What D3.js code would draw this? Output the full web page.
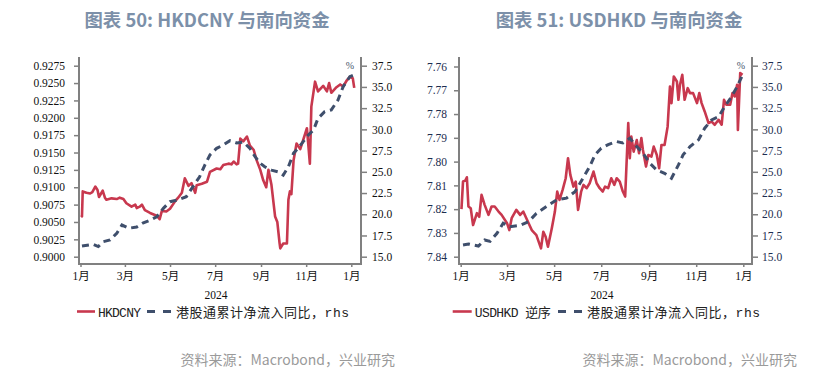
<!DOCTYPE html>
<html>
<head>
<meta charset="utf-8">
<script src="https://cdn.jsdelivr.net/npm/d3@7"></script>
<style>
  body { margin: 0; background: #fff; }
  svg { display: block; }
  .title { font-family: "Noto Sans CJK SC", sans-serif; font-weight: 700; font-size: 18.4px; fill: #7c90a9; }
  .tick text { font-family: "Liberation Serif", "Noto Sans CJK SC", serif; font-size: 11.5px; }
  .tick line { stroke: #808080; stroke-width: 1.5; }
  .frame { stroke: #808080; stroke-width: 2; }
  .legend { font-family: "Liberation Mono", "Noto Sans CJK SC", monospace; font-size: 13px; fill: #222; }
  .year { font-family: "Liberation Serif", serif; font-size: 11.5px; fill: #111; }
  .source { font-family: "Noto Sans CJK SC", sans-serif; font-size: 14px; fill: #9a9a9a; }
  .pct { font-family: "Liberation Serif", serif; font-size: 10px; fill: #44546a; }
</style>
</head>
<body>
<svg width="826" height="377"></svg>
<script>
// HKDCNY (lhs)
const hkdcny = [
  ["2024-01-02", 0.9060], ["2024-01-03", 0.9058], ["2024-01-04", 0.9094], ["2024-01-09", 0.9092],
  ["2024-01-14", 0.9091], ["2024-01-17", 0.9093], ["2024-01-21", 0.9101], ["2024-01-24", 0.9096],
  ["2024-01-26", 0.9086], ["2024-01-31", 0.9095], ["2024-02-03", 0.9085], ["2024-02-05", 0.9082],
  ["2024-02-12", 0.9084], ["2024-02-19", 0.9083], ["2024-02-23", 0.9085], ["2024-02-28", 0.9083],
  ["2024-03-03", 0.9077], ["2024-03-10", 0.9072], ["2024-03-15", 0.9075], ["2024-03-17", 0.9070],
  ["2024-03-21", 0.9072], ["2024-03-24", 0.9075], ["2024-03-28", 0.9067], ["2024-04-04", 0.9063],
  ["2024-04-13", 0.9059], ["2024-04-17", 0.9054], ["2024-04-20", 0.9066], ["2024-04-26", 0.9065],
  ["2024-05-01", 0.9069], ["2024-05-08", 0.9080], ["2024-05-12", 0.9085], ["2024-05-17", 0.9092],
  ["2024-05-21", 0.9113], ["2024-05-26", 0.9102], ["2024-05-30", 0.9106], ["2024-06-04", 0.9092],
  ["2024-06-06", 0.9103], ["2024-06-13", 0.9105], ["2024-06-20", 0.9108], ["2024-06-24", 0.9122],
  ["2024-07-03", 0.9127], ["2024-07-08", 0.9126], ["2024-07-12", 0.9132], ["2024-07-19", 0.9134],
  ["2024-07-23", 0.9133], ["2024-07-26", 0.9137], ["2024-07-30", 0.9133], ["2024-08-01", 0.9134],
  ["2024-08-04", 0.9170], ["2024-08-08", 0.9166], ["2024-08-13", 0.9173], ["2024-08-17", 0.9160],
  ["2024-08-22", 0.9154], ["2024-08-26", 0.9139], ["2024-08-31", 0.9125], ["2024-09-04", 0.9110],
  ["2024-09-08", 0.9100], ["2024-09-11", 0.9125], ["2024-09-15", 0.9104], ["2024-09-20", 0.9058],
  ["2024-09-23", 0.9050], ["2024-09-26", 0.9020], ["2024-09-27", 0.9012], ["2024-10-01", 0.9019],
  ["2024-10-06", 0.9019], ["2024-10-08", 0.9082], ["2024-10-10", 0.9094], ["2024-10-12", 0.9090],
  ["2024-10-15", 0.9139], ["2024-10-19", 0.9163], ["2024-10-24", 0.9155], ["2024-10-28", 0.9168],
  ["2024-11-02", 0.9185], ["2024-11-04", 0.9160], ["2024-11-06", 0.9134], ["2024-11-08", 0.9216],
  ["2024-11-13", 0.9252], ["2024-11-17", 0.9238], ["2024-11-24", 0.9246], ["2024-11-29", 0.9238],
  ["2024-12-02", 0.9250], ["2024-12-05", 0.9236], ["2024-12-12", 0.9244], ["2024-12-17", 0.9248],
  ["2024-12-21", 0.9245], ["2024-12-26", 0.9254], ["2024-12-30", 0.9259], ["2025-01-03", 0.9257],
  ["2025-01-05", 0.9243]
];

// 港股通累计净流入同比 (rhs)
const southboundA = [
  ["2024-01-03", 16.26], ["2024-01-18", 16.46], ["2024-01-25", 16.2], ["2024-02-01", 16.77],
  ["2024-02-10", 16.97], ["2024-02-19", 17.76], ["2024-02-26", 18.73], ["2024-03-06", 18.35],
  ["2024-03-17", 18.5], ["2024-03-26", 19.0], ["2024-04-04", 19.3], ["2024-04-13", 19.7],
  ["2024-04-22", 20.7], ["2024-05-01", 21.48], ["2024-05-12", 21.7], ["2024-05-23", 22.07],
  ["2024-06-01", 23.25], ["2024-06-10", 24.42], ["2024-06-17", 25.8], ["2024-06-24", 27.0],
  ["2024-07-03", 27.77], ["2024-07-12", 28.16], ["2024-07-21", 28.67], ["2024-07-30", 28.4],
  ["2024-08-08", 28.5], ["2024-08-17", 27.77], ["2024-08-24", 26.78], ["2024-08-31", 26.0],
  ["2024-09-06", 25.6], ["2024-09-15", 25.2], ["2024-09-24", 25.0], ["2024-10-01", 24.6],
  ["2024-10-08", 25.6], ["2024-10-15", 27.2], ["2024-10-21", 27.77], ["2024-10-28", 28.55],
  ["2024-11-04", 29.34], ["2024-11-11", 29.93], ["2024-11-17", 31.3], ["2024-11-26", 32.08],
  ["2024-12-05", 32.3], ["2024-12-14", 33.46], ["2024-12-21", 35.03], ["2024-12-30", 36.2],
  ["2025-01-04", 36.4]
];

// USDHKD (lhs, reversed)
const usdhkd = [
  ["2024-01-02", 7.8200], ["2024-01-04", 7.8084], ["2024-01-07", 7.8080], ["2024-01-09", 7.8066],
  ["2024-01-11", 7.8189], ["2024-01-14", 7.8196], ["2024-01-17", 7.8267], ["2024-01-22", 7.8217],
  ["2024-01-25", 7.8232], ["2024-01-28", 7.8140], ["2024-02-01", 7.8182], ["2024-02-06", 7.8224],
  ["2024-02-10", 7.8189], ["2024-02-14", 7.8189], ["2024-02-19", 7.8210], ["2024-02-23", 7.8224],
  ["2024-03-01", 7.8259], ["2024-03-04", 7.8288], ["2024-03-07", 7.8238], ["2024-03-13", 7.8203],
  ["2024-03-18", 7.8224], ["2024-03-22", 7.8210], ["2024-03-26", 7.8238], ["2024-04-02", 7.8288],
  ["2024-04-08", 7.8309], ["2024-04-14", 7.8365], ["2024-04-17", 7.8295], ["2024-04-20", 7.8316],
  ["2024-04-23", 7.8358], ["2024-04-28", 7.8280], ["2024-05-02", 7.8210], ["2024-05-05", 7.8126],
  ["2024-05-08", 7.8161], ["2024-05-12", 7.8119], ["2024-05-16", 7.8070], ["2024-05-19", 7.7986],
  ["2024-05-22", 7.8056], ["2024-05-26", 7.8105], ["2024-05-29", 7.8084], ["2024-06-01", 7.8203],
  ["2024-06-05", 7.8126], ["2024-06-08", 7.8098], ["2024-06-12", 7.8112], ["2024-06-16", 7.8091],
  ["2024-06-21", 7.8042], ["2024-06-25", 7.8091], ["2024-06-29", 7.8112], ["2024-07-03", 7.8126],
  ["2024-07-06", 7.8105], ["2024-07-10", 7.8112], ["2024-07-14", 7.8070], ["2024-07-18", 7.8098],
  ["2024-07-21", 7.8070], ["2024-07-25", 7.8084], ["2024-07-29", 7.8126], ["2024-08-01", 7.8147],
  ["2024-08-05", 7.7838], ["2024-08-07", 7.7986], ["2024-08-09", 7.7895], ["2024-08-12", 7.7958],
  ["2024-08-16", 7.7909], ["2024-08-19", 7.7965], ["2024-08-22", 7.7901], ["2024-08-24", 7.7951],
  ["2024-08-28", 7.8021], ["2024-08-31", 7.7972], ["2024-09-04", 7.7979], ["2024-09-07", 7.7937],
  ["2024-09-11", 7.7972], ["2024-09-14", 7.8028], ["2024-09-17", 7.7930], ["2024-09-21", 7.7930],
  ["2024-09-25", 7.7853], ["2024-09-28", 7.7684], ["2024-09-30", 7.7754], ["2024-10-03", 7.7642],
  ["2024-10-07", 7.7663], ["2024-10-09", 7.7740], ["2024-10-11", 7.7677], ["2024-10-14", 7.7635],
  ["2024-10-17", 7.7740], ["2024-10-21", 7.7691], ["2024-10-24", 7.7712], ["2024-10-28", 7.7712],
  ["2024-11-02", 7.7754], ["2024-11-05", 7.7712], ["2024-11-08", 7.7754], ["2024-11-12", 7.7789],
  ["2024-11-17", 7.7838], ["2024-11-21", 7.7832], ["2024-11-25", 7.7845], ["2024-11-30", 7.7824],
  ["2024-12-04", 7.7845], ["2024-12-07", 7.7740], ["2024-12-10", 7.7761], ["2024-12-15", 7.7761],
  ["2024-12-18", 7.7712], ["2024-12-21", 7.7726], ["2024-12-24", 7.7677], ["2024-12-25", 7.7867],
  ["2024-12-28", 7.7628], ["2024-12-31", 7.7635]
];

// 港股通累计净流入同比 (rhs)
const southboundB = [
  ["2024-01-04", 16.38], ["2024-01-11", 16.5], ["2024-01-24", 16.26], ["2024-02-01", 16.97],
  ["2024-02-08", 16.8], ["2024-02-17", 17.76], ["2024-02-25", 18.94], ["2024-03-05", 18.54],
  ["2024-03-18", 18.7], ["2024-03-29", 19.13], ["2024-04-08", 20.1], ["2024-04-21", 20.9],
  ["2024-05-04", 21.69], ["2024-05-17", 21.9], ["2024-05-28", 22.66], ["2024-06-06", 24.04],
  ["2024-06-16", 25.6], ["2024-06-23", 27.0], ["2024-07-01", 27.78], ["2024-07-10", 28.2],
  ["2024-07-21", 28.56], ["2024-07-29", 28.4], ["2024-08-07", 28.96], ["2024-08-16", 27.97],
  ["2024-08-24", 27.2], ["2024-09-02", 26.0], ["2024-09-11", 25.2], ["2024-09-21", 24.83],
  ["2024-09-30", 24.24], ["2024-10-09", 25.81], ["2024-10-15", 27.0], ["2024-10-24", 27.97],
  ["2024-11-04", 28.76], ["2024-11-12", 30.14], ["2024-11-21", 31.12], ["2024-11-30", 31.5],
  ["2024-12-08", 32.7], ["2024-12-17", 33.87], ["2024-12-24", 35.05], ["2024-12-30", 36.2]
];

const hkdcnyTicks = [0.9000, 0.9025, 0.9050, 0.9075, 0.9100, 0.9125, 0.9150, 0.9175, 0.9200, 0.9225, 0.9250, 0.9275];
const usdhkdTicks = [7.76, 7.77, 7.78, 7.79, 7.80, 7.81, 7.82, 7.83, 7.84];
const rhsTicks = [15.0, 17.5, 20.0, 22.5, 25.0, 27.5, 30.0, 32.5, 35.0, 37.5];
const xStart = "2024-01-01";
const xEnd = "2025-01-01";
const rhsName = "港股通累计净流入同比，rhs";
const sourceText = "资料来源：Macrobond，兴业研究";

const parse = d3.timeParse("%Y-%m-%d");
const svg = d3.select("svg");

function drawPanel(p) {
  const g = svg.append("g");

  const x = d3.scaleTime().domain([parse(xStart), parse(xEnd)]).range(p.xRange);
  const yL = d3.scaleLinear().domain(p.lhsDomain).range(p.lhsRange);
  const yR = d3.scaleLinear().domain([15, 37.5]).range([256.7, 65.7]);

  // title
  g.append("text").attr("class", "title")
    .attr("x", p.titleX).attr("y", 27)
    .attr("text-anchor", "middle")
    .text(p.title);

  // lhs axis
  const axL = g.append("g")
    .attr("transform", `translate(${p.left},0)`)
    .call(d3.axisLeft(yL).tickValues(p.lhsTicks).tickFormat(p.lhsFmt).tickSize(5).tickPadding(p.lhsPad));
  axL.select(".domain").remove();
  axL.selectAll("text").attr("fill", p.labelColor);

  // rhs axis
  const axR = g.append("g")
    .attr("transform", `translate(${p.right},0)`)
    .call(d3.axisRight(yR).tickValues(rhsTicks).tickFormat(d3.format(".1f")).tickSize(6).tickPadding(p.rhsPad));
  axR.select(".domain").remove();
  axR.selectAll("text").attr("fill", p.labelColor);

  // x axis
  const axX = g.append("g")
    .attr("transform", `translate(0,${p.bottom})`)
    .call(d3.axisBottom(x).ticks(d3.timeMonth.every(2))
      .tickFormat(function (d) { return (d.getMonth() + 1) + "月"; })
      .tickSize(3).tickPadding(5));
  axX.select(".domain").remove();
  axX.selectAll("text").attr("fill", "#111");

  // frame lines (left, right, bottom)
  g.append("line").attr("class", "frame")
    .attr("x1", p.left).attr("x2", p.left).attr("y1", p.top).attr("y2", p.bottom + 1);
  g.append("line").attr("class", "frame")
    .attr("x1", p.right).attr("x2", p.right).attr("y1", p.top).attr("y2", p.bottom + 1);
  g.append("line").attr("class", "frame")
    .attr("x1", p.left).attr("x2", p.right).attr("y1", p.bottom).attr("y2", p.bottom);

  g.append("text").attr("class", "year")
    .attr("x", (p.xRange[0] + p.xRange[1]) / 2).attr("y", 299)
    .attr("text-anchor", "middle").text("2024");

  g.append("text").attr("class", "pct")
    .attr("x", p.right - 11).attr("y", 69)
    .attr("text-anchor", "middle").text("%");

  // series
  const lineL = d3.line()
    .x(function (d) { return x(parse(d[0])); })
    .y(function (d) { return yL(d[1]); });
  const lineR = d3.line()
    .x(function (d) { return x(parse(d[0])); })
    .y(function (d) { return yR(d[1]); });

  g.append("path").datum(p.lhsData)
    .attr("fill", "none").attr("stroke", "#c8384e").attr("stroke-width", 2.6)
    .attr("stroke-linejoin", "round")
    .attr("d", lineL);

  g.append("path").datum(p.rhsData)
    .attr("fill", "none").attr("stroke", "#3f4f6c").attr("stroke-width", 3)
    .attr("stroke-dasharray", "7,5")
    .attr("d", lineR);

  // legend
  const ly = 311.5;
  g.append("line")
    .attr("x1", p.leg[0]).attr("x2", p.leg[1]).attr("y1", ly).attr("y2", ly)
    .attr("stroke", "#c8384e").attr("stroke-width", 2.6);
  g.append("text").attr("class", "legend")
    .attr("x", p.leg[1] + 3).attr("y", ly + 5)
    .attr("textLength", p.lhsNameLen).attr("lengthAdjust", "spacing")
    .text(p.lhsName);
  g.append("line")
    .attr("x1", p.leg[2]).attr("x2", p.leg[2] + 25).attr("y1", ly).attr("y2", ly)
    .attr("stroke", "#3f4f6c").attr("stroke-width", 3)
    .attr("stroke-dasharray", "8,8");
  g.append("text").attr("class", "legend")
    .attr("x", p.leg[2] + 29).attr("y", ly + 5)
    .attr("textLength", 173).attr("lengthAdjust", "spacing")
    .text(rhsName);

  g.append("text").attr("class", "source")
    .attr("x", p.sourceX).attr("y", 365)
    .attr("text-anchor", "end").text(sourceText);
}

drawPanel({
  title: "图表 50: HKDCNY 与南向资金", titleX: 207,
  left: 79, right: 361, top: 57, bottom: 264,
  xRange: [80.5, 351.3],
  lhsDomain: [0.9000, 0.9275], lhsRange: [256.7, 65.7],
  lhsTicks: hkdcnyTicks, lhsFmt: d3.format(".4f"), lhsPad: 9, rhsPad: 5,
  labelColor: "#111",
  lhsData: hkdcny, rhsData: southboundA,
  lhsName: "HKDCNY", lhsNameLen: 43,
  leg: [77, 95, 147],
  sourceX: 395
});

drawPanel({
  title: "图表 51: USDHKD 与南向资金", titleX: 619,
  left: 459, right: 752, top: 57, bottom: 264,
  xRange: [460.7, 743.3],
  lhsDomain: [7.76, 7.84], lhsRange: [66.5, 256.7],
  lhsTicks: usdhkdTicks, lhsFmt: d3.format(".2f"), lhsPad: 7, rhsPad: 4,
  labelColor: "#1c2d4f",
  lhsData: usdhkd, rhsData: southboundB,
  lhsName: "USDHKD 逆序", lhsNameLen: 76,
  leg: [452.7, 471.7, 558],
  sourceX: 797
});
</script>
</body>
</html>
